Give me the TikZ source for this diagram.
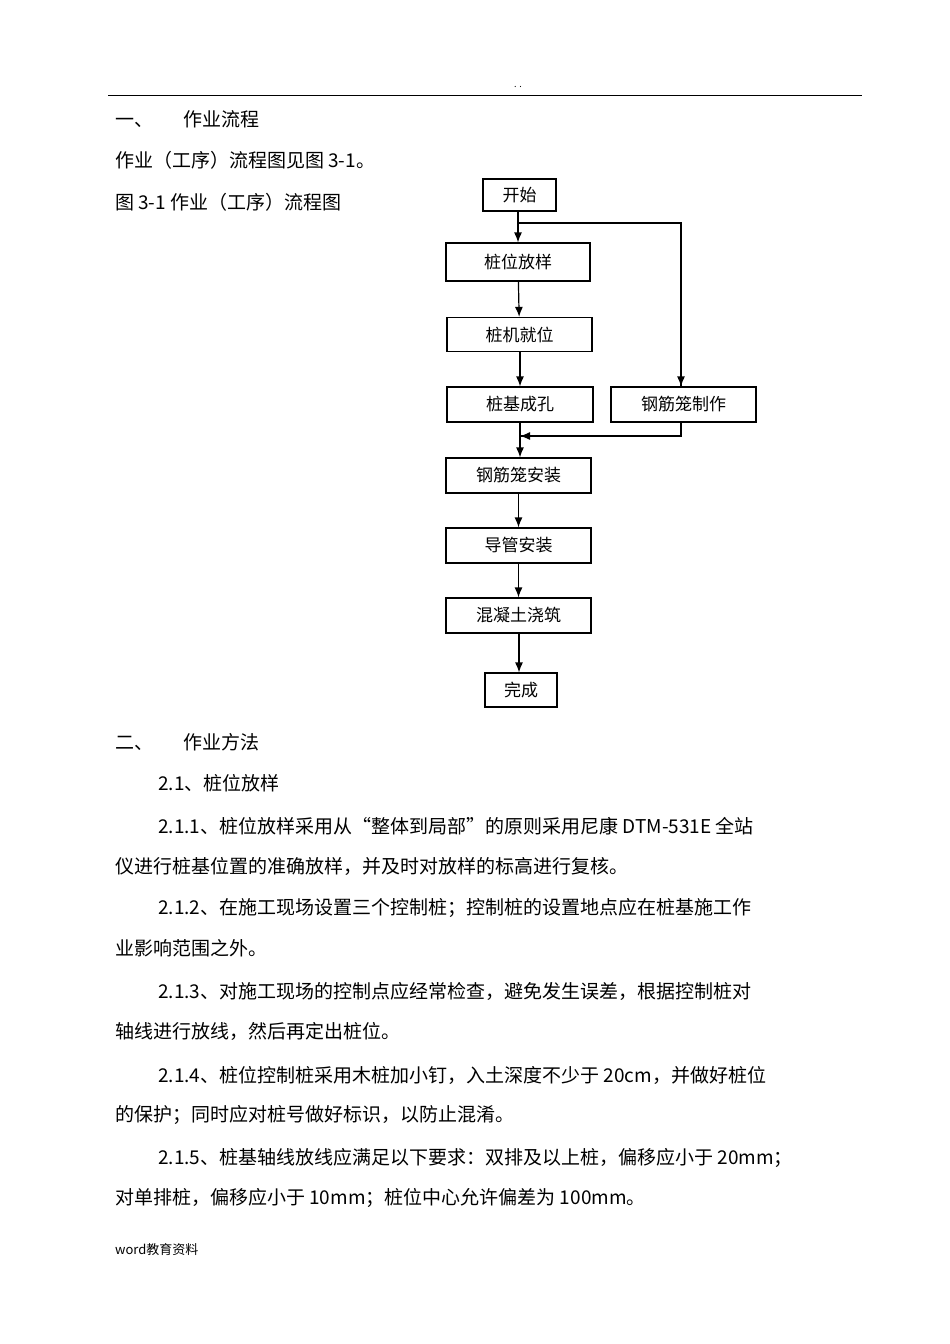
\documentclass[tikz,border=0pt]{standalone}
\usepackage{fontspec}
\setmainfont{Noto Sans CJK SC}
\usetikzlibrary{arrows.meta}
\begin{document}
\begin{tikzpicture}[x=1pt,y=-1pt,
  box/.style={draw,line width=1.2pt,font=\fontsize{17}{19}\selectfont},
  arr/.style={line width=1.2pt,-{Latex[length=10pt,width=8pt]}},
  ln/.style={line width=1.2pt},
  txt/.style={anchor=west,inner sep=0pt,font=\fontsize{19}{22}\selectfont}]
\useasboundingbox (0,0) rectangle (950,1344);
\node[font=\fontsize{9}{10}\selectfont] (dots) at (518,87) {. .};
\draw[line width=1pt] (108,95) -- (862,95);
\node[txt] (t1) at (115,119) {一、\hspace{1.6em}作业流程};
\node[txt] (t2) at (115,160) {作业（工序）流程图见图 3-1。};
\node[txt] (t3) at (115,202) {图 3-1 作业（工序）流程图};
% flowchart
\node[box,minimum width=73pt,minimum height=32pt] (s) at (519.5,195) {开始};
\node[box,minimum width=144pt,minimum height=38pt] (a) at (518,262) {桩位放样};
\node[box,minimum width=145pt,minimum height=34pt] (b) at (519.5,334.5) {桩机就位};
\node[box,minimum width=146pt,minimum height=35pt] (c) at (520,404.5) {桩基成孔};
\node[box,minimum width=145pt,minimum height=35pt] (r) at (683.5,404.5) {钢筋笼制作};
\node[box,minimum width=145pt,minimum height=35pt] (d) at (518.5,475.5) {钢筋笼安装};
\node[box,minimum width=145pt,minimum height=35pt] (e) at (518.5,545.5) {导管安装};
\node[box,minimum width=145pt,minimum height=35pt] (f) at (518.5,615.5) {混凝土浇筑};
\node[box,minimum width=72pt,minimum height=34pt] (g) at (521,690) {完成};
\coordinate (br) at (518,223);
\coordinate (mg) at (520,436);
\draw[arr] (s.south -| br) -- (a.north -| br);
\draw[ln] (br) -| (r.north -| 681,0) ;
\draw[arr] (681,223) -- (r.north -| 681,0);
\draw[arr] (a) -- (b);
\draw[arr] (b.south -| 520,0) -- (c.north -| 520,0);
\draw[arr] (c.south -| mg) -- (d.north -| mg);
\draw[ln] (r.south -| 681,0) |- (mg);
\draw[arr] (681,436) -- (mg);
\draw[arr] (d) -- (e);
\draw[arr] (e) -- (f);
\draw[arr] (f.south -| 519,0) -- (g.north -| 519,0);
% body
\node[txt] (h2) at (115,742) {二、\hspace{1.6em}作业方法};
\node[txt] (p0) at (158,783) {2.1、桩位放样};
\node[txt] (p1) at (158,826) {2.1.1、桩位放样采用从“整体到局部”的原则采用尼康 DTM-531E 全站};
\node[txt] (p1b) at (115,866) {仪进行桩基位置的准确放样，并及时对放样的标高进行复核。};
\node[txt] (p2) at (158,908) {2.1.2、在施工现场设置三个控制桩；控制桩的设置地点应在桩基施工作};
\node[txt] (p2b) at (115,948) {业影响范围之外。};
\node[txt] (p3) at (158,991) {2.1.3、对施工现场的控制点应经常检查，避免发生误差，根据控制桩对};
\node[txt] (p3b) at (115,1031) {轴线进行放线，然后再定出桩位。};
\node[txt] (p4) at (158,1075) {2.1.4、桩位控制桩采用木桩加小钉，入土深度不少于 20cm，并做好桩位};
\node[txt] (p4b) at (115,1115) {的保护；同时应对桩号做好标识，以防止混淆。};
\node[txt] (p5) at (158,1158) {2.1.5、桩基轴线放线应满足以下要求：双排及以上桩，偏移应小于 20mm；};
\node[txt] (p5b) at (115,1198) {对单排桩，偏移应小于 10mm；桩位中心允许偏差为 100mm。};
\node[anchor=west,inner sep=0pt,font=\fontsize{13}{15}\selectfont] (ft) at (115,1250) {word教育资料};
\end{tikzpicture}
\end{document}
